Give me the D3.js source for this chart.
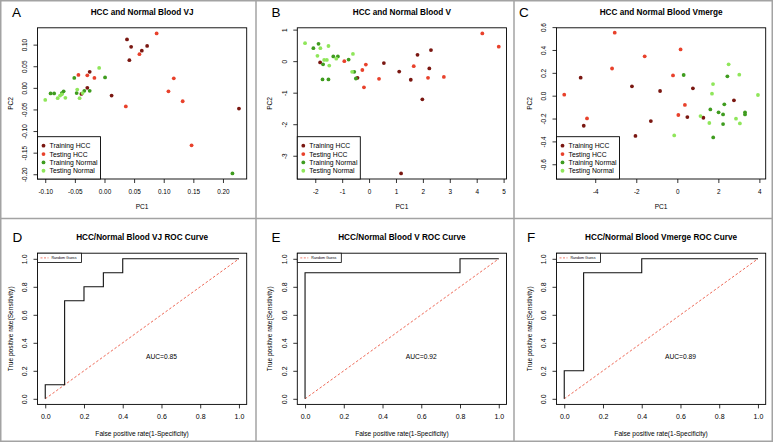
<!DOCTYPE html>
<html><head><meta charset="utf-8">
<script src="https://cdn.jsdelivr.net/npm/d3@7/dist/d3.min.js"></script>
<style>html,body{margin:0;padding:0;background:#fff;}svg{display:block;}</style>
</head><body><div id="chart"></div>
<script>
// ---------- DATA ----------
const seriesNames = ["Training HCC", "Testing HCC", "Training Normal", "Testing Normal"];

// Panel A: VJ (PC1, PC2)
const vjTrainingHCC = [[0.038,0.112],[0.045,0.095],[0.063,0.086],[0.072,0.097],[0.042,0.064],[-0.025,0.037],[-0.029,0.000],[-0.039,-0.014],[0.012,-0.018],[0.227,-0.048]];
const vjTestingHCC = [[0.088,0.126],[0.059,0.078],[-0.044,0.030],[-0.029,0.029],[-0.017,0.023],[0.117,0.022],[0.108,-0.008],[0.036,-0.043],[0.132,-0.031],[0.147,-0.133]];
const vjTrainingNormal = [[-0.051,0.023],[0.001,0.024],[-0.091,-0.013],[-0.085,-0.013],[-0.069,-0.008],[-0.072,-0.012],[-0.047,-0.012],[-0.034,-0.007],[-0.025,-0.007],[0.216,-0.198]];
const vjTestingNormal = [[-0.009,0.046],[-0.100,-0.028],[-0.075,-0.018],[-0.079,-0.024],[-0.066,-0.023],[-0.072,-0.015],[-0.046,-0.004],[-0.042,-0.024],[-0.037,-0.012]];

// Panel B: V
const vTrainingHCC = [[-1.82,-0.04],[0.55,-0.06],[1.12,-0.33],[1.55,-0.59],[1.80,0.20],[2.30,0.35],[2.24,-0.23],[1.98,-1.21],[-0.43,-0.53],[1.19,-3.56]];
const vTestingHCC = [[4.21,0.88],[4.82,0.46],[-0.92,0.00],[-0.12,-0.11],[-0.25,-0.28],[-0.19,-0.83],[0.37,-0.56],[1.66,-0.16],[2.19,-0.53],[2.78,-0.50]];
const vTrainingNormal = [[-2.07,0.41],[-1.88,0.55],[-1.71,-0.10],[-1.73,-0.58],[-1.51,-0.58],[-1.33,0.15],[-1.16,0.15],[-0.76,0.05],[-0.55,-0.34],[-0.49,-0.55]];
const vTestingNormal = [[-2.38,0.57],[-1.92,0.17],[-1.81,0.41],[-1.67,0.04],[-1.57,0.04],[-1.51,0.48],[-1.48,-0.14],[-1.22,0.08],[-0.60,0.23],[-0.63,-0.34]];

// Panel C: Vmerge
const vmTrainingHCC = [[-4.71,0.158],[-4.56,-0.263],[-2.21,0.082],[-2.04,-0.352],[-1.29,-0.222],[-0.84,0.041],[0.49,-0.187],[0.76,0.064],[1.27,-0.193],[2.76,-0.041]];
const vmTestingHCC = [[-5.51,0.009],[-4.40,-0.199],[-3.18,0.238],[-3.05,0.551],[-1.59,0.344],[-0.21,0.177],[0.16,0.405],[0.37,-0.081],[0.05,-0.169]];
const vmTrainingNormal = [[0.31,0.181],[2.44,0.169],[2.29,-0.076],[1.61,-0.120],[2.01,-0.146],[2.23,-0.164],[3.30,-0.146],[3.30,-0.164],[2.23,-0.248],[1.75,-0.365]];
const vmTestingNormal = [[2.50,0.274],[3.02,0.184],[1.74,0.102],[1.69,0.018],[3.93,0.006],[1.13,-0.178],[1.56,-0.239],[2.86,-0.201],[3.05,-0.243],[-0.15,-0.348]];
const vmYLim = [-0.68, 0.545];

// Tick values
const vjXTicks = [-0.10,-0.05,0.00,0.05,0.10,0.15,0.20];
const vjYTicks = [-0.20,-0.15,-0.10,-0.05,0.00,0.05,0.10];
const vXTicks = [-2,-1,0,1,2,3,4,5];
const vYTicks = [-3,-2,-1,0,1];
const vmXTicks = [-4,-2,0,2,4];
const vmYTicks = [-0.6,-0.4,-0.2,0.0,0.2,0.4,0.6];
const rocTicks = [0,0.2,0.4,0.6,0.8,1.0];

// ROC curves (false positive rate, true positive rate)
const rocVJFpr = [0,0,0.1,0.1,0.2,0.2,0.3,0.3,0.4,0.4,1];
const rocVJTpr = [0,0.1,0.1,0.7,0.7,0.8,0.8,0.9,0.9,1,1];
const rocVFpr = [0,0,0.8,0.8,1];
const rocVTpr = [0,0.9,0.9,1,1];
const rocVmFpr = [0,0,0.1,0.1,0.4,0.4,1];
const rocVmTpr = [0,0.2,0.2,0.9,0.9,1,1];
const aucLabels = ["AUC=0.85","AUC=0.92","AUC=0.89"];

// ---------- STYLE ----------
const seriesColors = ["#7a1711", "#e8412b", "#3f9c1f", "#8fe65a"];
const FONT = '"Liberation Sans", Arial, Helvetica, sans-serif';
const W = 773, H = 442;

const svg = d3.select("#chart").append("svg").attr("width", W).attr("height", H)
  .style("font-family", FONT);
svg.append("rect").attr("width", W).attr("height", H).attr("fill", "#fff");

// panel frames
const frameG = svg.append("g").attr("stroke", "#a3a3a3").attr("stroke-width", 1.5).attr("fill", "none");
frameG.append("rect").attr("x", 0.75).attr("y", 0.75).attr("width", W - 1.5).attr("height", H - 1.5);
frameG.append("line").attr("x1", 256).attr("x2", 256).attr("y1", 0).attr("y2", H);
frameG.append("line").attr("x1", 514).attr("x2", 514).attr("y1", 0).attr("y2", H);
frameG.append("line").attr("x1", 0).attr("x2", W).attr("y1", 218.5).attr("y2", 218.5);

const colX = [37.5, 297.3, 556.5];
const boxW = 209.2;
const rowTop = { scatter: 27.8, roc: 253.2 };
const boxH = 151.2;
const letterOffset = { A: -25.5, B: -25.8, C: -37.5, D: -25, E: -25.8, F: -29.5 };

function padded(lo, hi) { const d = (hi - lo) * 0.04; return [lo - d, hi + d]; }

function drawAxes(g, x, y, xTicks, yTicks, xFmt, yFmt, fs, xPad) {
  const ax = g.append("g").attr("transform", `translate(0,${boxH})`)
    .call(d3.axisBottom(x).tickValues(xTicks).tickFormat(xFmt).tickSize(4).tickPadding(xPad));
  ax.select(".domain").remove();
  ax.selectAll("line").attr("stroke", "#000").attr("stroke-width", 0.8);
  ax.selectAll("text").attr("font-size", fs).attr("font-family", FONT).attr("fill", "#000");

  const ay = g.append("g")
    .call(d3.axisLeft(y).tickValues(yTicks).tickFormat(yFmt).tickSize(4));
  ay.select(".domain").remove();
  ay.selectAll("line").attr("stroke", "#000").attr("stroke-width", 0.8);
  ay.selectAll("text").attr("font-size", fs).attr("font-family", FONT).attr("fill", "#000")
    .attr("transform", "rotate(-90)").attr("x", 0).attr("y", -10.4).attr("dy", 0)
    .attr("text-anchor", "middle");
}

function labels(g, letter, title, xlab, ylab, ty, xlabDy) {
  g.append("text").attr("x", letterOffset[letter]).attr("y", ty + 0.5).attr("font-size", 13.5).attr("dominant-baseline", "central")
    .text(letter);
  g.append("text").attr("x", boxW / 2).attr("y", ty).attr("text-anchor", "middle")
    .attr("dominant-baseline", "central").attr("font-size", 8.2).attr("font-weight", "bold").text(title);
  g.append("text").attr("x", boxW / 2).attr("y", boxH + xlabDy).attr("text-anchor", "middle")
    .attr("dominant-baseline", "central").attr("font-size", 6.6).text(xlab);
  g.append("text").attr("transform", `translate(-27.5,${boxH / 2}) rotate(-90)`).attr("text-anchor", "middle")
    .attr("dominant-baseline", "central").attr("font-size", 6.6).text(ylab);
}

function scatterPanel(i, letter, title, series, xTicks, yTicks, xFmt, yFmt, yDomain) {
  const g = svg.append("g").attr("transform", `translate(${colX[i]},${rowTop.scatter})`);
  const all = series.flat();
  const x = d3.scaleLinear().domain(padded(d3.min(all, d => d[0]), d3.max(all, d => d[0]))).range([0, boxW]);
  const y = d3.scaleLinear().domain(yDomain ? padded(yDomain[0], yDomain[1]) : padded(d3.min(all, d => d[1]), d3.max(all, d => d[1]))).range([boxH, 0]);
  drawAxes(g, x, y, xTicks, yTicks, xFmt, yFmt, 6.4, 6.1);
  series.forEach((pts, k) => {
    g.append("g").selectAll("circle").data(pts).join("circle")
      .attr("cx", d => x(d[0])).attr("cy", d => y(d[1])).attr("r", 1.9)
      .attr("fill", seriesColors[k]);
  });
  g.append("rect").attr("width", boxW).attr("height", boxH).attr("fill", "none").attr("stroke", "#000").attr("stroke-width", 0.9);
  // legend
  const lh = 42.3, lw = 63;
  const lg = g.append("g").attr("transform", `translate(0,${boxH - lh})`);
  lg.append("rect").attr("width", lw).attr("height", lh).attr("fill", "#fff").attr("stroke", "#000").attr("stroke-width", 0.9);
  seriesNames.forEach((n, k) => {
    const yy = 9 + k * 8.35;
    lg.append("circle").attr("cx", 6).attr("cy", yy).attr("r", 1.9).attr("fill", seriesColors[k]);
    lg.append("text").attr("x", 12).attr("y", yy).attr("dominant-baseline", "central").attr("font-size", 6.8).text(n);
  });
  labels(g, letter, title, "PC1", "PC2", -15.8, 28);
}

function rocPanel(i, letter, title, fpr, tpr, auc) {
  const g = svg.append("g").attr("transform", `translate(${colX[i]},${rowTop.roc})`);
  const x = d3.scaleLinear().domain(padded(0, 1)).range([0, boxW]);
  const y = d3.scaleLinear().domain(padded(0, 1)).range([boxH, 0]);
  const f1 = d3.format(".1f");
  drawAxes(g, x, y, rocTicks, rocTicks, f1, f1, 7, 5.8);
  g.append("line").attr("x1", x(0)).attr("y1", y(0)).attr("x2", x(1)).attr("y2", y(1))
    .attr("stroke", "#e8412b").attr("stroke-width", 0.8).attr("stroke-dasharray", "2.5,2");
  const pts = fpr.map((v, k) => [v, tpr[k]]);
  g.append("path").datum(pts).attr("d", d3.line().x(d => x(d[0])).y(d => y(d[1])))
    .attr("fill", "none").attr("stroke", "#111").attr("stroke-width", 1.1);
  g.append("text").attr("x", x(0.6)).attr("y", y(0.3)).attr("text-anchor", "middle")
    .attr("dominant-baseline", "central").attr("font-size", 6.7).text(auc);
  g.append("rect").attr("width", boxW).attr("height", boxH).attr("fill", "none").attr("stroke", "#000").attr("stroke-width", 0.9);
  const lg = g.append("g");
  lg.append("rect").attr("width", 44).attr("height", 9.4).attr("fill", "#fff").attr("stroke", "#000").attr("stroke-width", 0.8);
  lg.append("line").attr("x1", 3).attr("x2", 11).attr("y1", 4.7).attr("y2", 4.7)
    .attr("stroke", "#e8412b").attr("stroke-width", 0.7).attr("stroke-dasharray", "2,1.5");
  lg.append("text").attr("x", 14).attr("y", 4.7).attr("dominant-baseline", "central").attr("font-size", 3.6).text("Random Guess");
  labels(g, letter, title, "False positive rate(1-Specificity)", "True positive rate(Sensitivity)", -15.8, 29);
}

const f2 = d3.format(".2f"), f0 = d3.format("d"), f1 = d3.format(".1f");
const minus = f => v => f(v).replace("\u2212", "-");

scatterPanel(0, "A", "HCC and Normal Blood VJ",
  [vjTrainingHCC, vjTestingHCC, vjTrainingNormal, vjTestingNormal], vjXTicks, vjYTicks, minus(f2), minus(f2));
scatterPanel(1, "B", "HCC and Normal Blood V",
  [vTrainingHCC, vTestingHCC, vTrainingNormal, vTestingNormal], vXTicks, vYTicks, minus(f0), minus(f0));
scatterPanel(2, "C", "HCC and Normal Blood Vmerge",
  [vmTrainingHCC, vmTestingHCC, vmTrainingNormal, vmTestingNormal], vmXTicks, vmYTicks, minus(f0), minus(f1), vmYLim);

rocPanel(0, "D", "HCC/Normal Blood VJ ROC Curve", rocVJFpr, rocVJTpr, aucLabels[0]);
rocPanel(1, "E", "HCC/Normal Blood V ROC Curve", rocVFpr, rocVTpr, aucLabels[1]);
rocPanel(2, "F", "HCC/Normal Blood Vmerge ROC Curve", rocVmFpr, rocVmTpr, aucLabels[2]);
</script>
</body></html>
